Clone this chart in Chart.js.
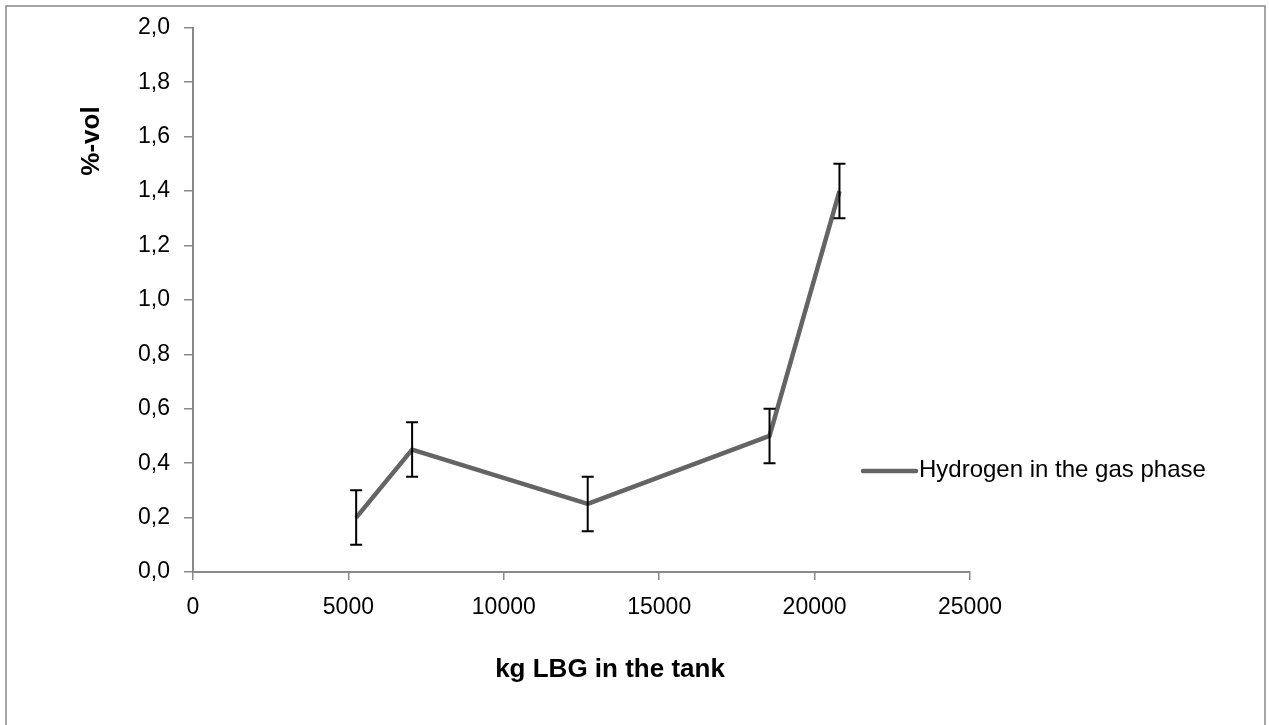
<!DOCTYPE html>
<html>
<head>
<meta charset="utf-8">
<script src="https://cdn.jsdelivr.net/npm/chart.js@4/dist/chart.umd.min.js"></script>
<style>
  html, body { margin: 0; padding: 0; background: #fff; }
  #wrap { width: 1269px; height: 725px; position: relative; }
</style>
</head>
<body>
<div id="wrap"><canvas id="c" width="1269" height="725"></canvas></div>
<script>
// Hydrogen content of the gas phase vs. LBG mass in the tank
const tankMassKg = [5250, 7050, 12700, 18550, 20800];
const hydrogenVol = [0.2, 0.45, 0.25, 0.5, 1.4];
const hydrogenErr = [0.1, 0.1, 0.1, 0.1, 0.1];
const seriesLabel = 'Hydrogen in the gas phase';
const xTitle = 'kg LBG in the tank';
const yTitle = '%-vol';

const axisGrey = '#898989';
const lineGrey = '#646464';
const fontFamily = '"Liberation Sans", Arial, sans-serif';

// vertical error bars with caps, drawn in data space
const errorBars = {
  id: 'errorBars',
  afterDatasetsDraw(chart) {
    const { ctx, scales: { x, y } } = chart;
    ctx.save();
    ctx.strokeStyle = '#000';
    ctx.lineWidth = 2;
    tankMassKg.forEach((m, i) => {
      const px = x.getPixelForValue(m);
      const top = y.getPixelForValue(hydrogenVol[i] + hydrogenErr[i]);
      const bot = y.getPixelForValue(hydrogenVol[i] - hydrogenErr[i]);
      ctx.beginPath();
      ctx.moveTo(px, top); ctx.lineTo(px, bot);
      ctx.moveTo(px - 6, top); ctx.lineTo(px + 6, top);
      ctx.moveTo(px - 6, bot); ctx.lineTo(px + 6, bot);
      ctx.stroke();
    });
    ctx.restore();
  }
};

// outer frame, axis titles and the series key
const decorations = {
  id: 'decorations',
  afterDraw(chart) {
    const { ctx } = chart;
    ctx.save();
    ctx.strokeStyle = axisGrey;
    ctx.lineWidth = 1.5;
    ctx.beginPath();
    ctx.moveTo(6, 740); ctx.lineTo(6, 6); ctx.lineTo(1265, 6); ctx.lineTo(1265, 740);
    ctx.stroke();

    ctx.fillStyle = '#000';
    ctx.font = 'bold 26px ' + fontFamily;
    ctx.textAlign = 'center';
    ctx.textBaseline = 'middle';
    ctx.fillText(xTitle, 610, 670);

    ctx.translate(92, 141);
    ctx.rotate(-Math.PI / 2);
    ctx.font = 'bold 26px ' + fontFamily;
    ctx.fillText(yTitle, 0, 0);
    ctx.setTransform(1, 0, 0, 1, 0, 0);

    ctx.strokeStyle = lineGrey;
    ctx.lineWidth = 4.5;
    ctx.lineCap = 'round';
    ctx.beginPath();
    ctx.moveTo(863, 471); ctx.lineTo(916, 471);
    ctx.stroke();
    ctx.fillStyle = '#000';
    ctx.textAlign = 'left';
    ctx.font = '24px ' + fontFamily;
    ctx.fillText(chart.data.datasets[0].label, 919, 470);
    ctx.restore();
  }
};

new Chart(document.getElementById('c'), {
  type: 'line',
  data: {
    datasets: [{
      label: seriesLabel,
      data: tankMassKg.map((m, i) => ({ x: m, y: hydrogenVol[i] })),
      borderColor: lineGrey,
      backgroundColor: lineGrey,
      borderWidth: 4.5,
      pointRadius: 0,
      tension: 0,
      borderJoinStyle: 'round'
    }]
  },
  options: {
    responsive: false,
    animation: false,
    layout: { padding: { left: 0, right: 299, top: 24, bottom: 0 } },
    plugins: { legend: { display: false }, tooltip: { enabled: false } },
    scales: {
      x: {
        type: 'linear',
        min: 0, max: 25000,
        afterFit(s) { s.height = 153; },
        ticks: { stepSize: 5000, color: '#000', padding: 14, maxRotation: 0,
                 font: { family: fontFamily, size: 23 },
                 callback: v => String(v) },
        grid: { drawOnChartArea: false, drawTicks: true, tickLength: 8, color: axisGrey, lineWidth: 1.5 },
        border: { color: axisGrey, width: 2 }
      },
      y: {
        min: 0, max: 2,
        afterFit(s) { s.width = 193; },
        ticks: { stepSize: 0.2, color: '#000', padding: 14,
                 font: { family: fontFamily, size: 23 },
                 callback: v => v.toFixed(1).replace('.', ',') },
        grid: { drawOnChartArea: false, drawTicks: true, tickLength: 9, color: axisGrey, lineWidth: 1.5 },
        border: { color: axisGrey, width: 2 }
      }
    }
  },
  plugins: [errorBars, decorations]
});
</script>
</body>
</html>
